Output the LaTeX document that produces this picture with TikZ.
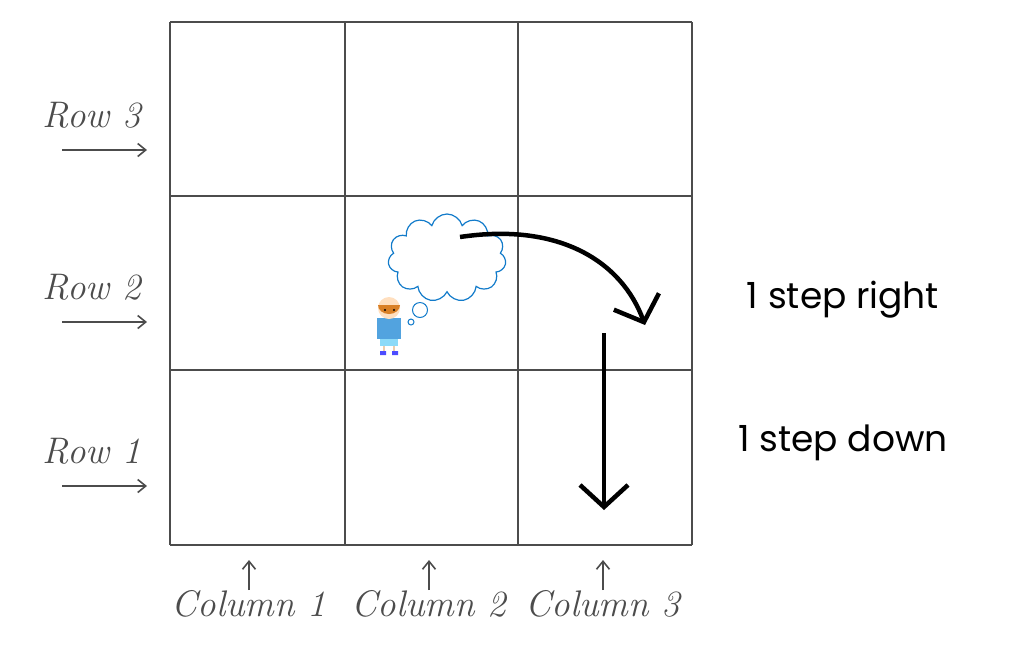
\documentclass[tikz,border=0pt]{standalone}
\usepackage{fontspec}
\setsansfont{Poppins}
\usetikzlibrary{shapes.symbols,arrows.meta}
\begin{document}
\begin{tikzpicture}[x=1pt,y=-1pt,
  gridline/.style={draw=black!70,line width=2.6pt},
  lbl/.style={font=\itshape\fontsize{37}{40}\selectfont,text=black!70},
  thin arrow/.style={draw=black!70,line width=1.6pt,-{Straight Barb[length=8pt,width=13pt]}},
  big arrow/.style={draw=black,line width=4.5pt,-{Straight Barb[length=22pt,width=48pt,line width=4.5pt]}},
  steptext/.style={font=\sffamily\fontsize{36}{40}\selectfont}]
\useasboundingbox (0,0) rectangle (1024,649);
\foreach \x in {170,345,518,692} \draw[gridline] (\x,22) -- (\x,545);
\foreach \y in {22,196,370,545} \draw[gridline] (170,\y) -- (692,\y);
\foreach \n/\y in {3/115,2/287,1/451}{
  \node[lbl] (r\n) at (92,\y) {Row \n};
  \coordinate (ra\n) at (62,\y+35);
  \coordinate (rb\n) at (147,\y+35);
  \draw[thin arrow] (ra\n) -- (rb\n);
}
\foreach \n/\x in {1/249,2/429,3/603}{
  \coordinate (ca\n) at (\x,590);
  \coordinate (cb\n) at (\x,560);
  \draw[thin arrow] (ca\n) -- (cb\n);
  \node[lbl] (c\n) at (\x,604) {Column \n};
}
\node[cloud,cloud puffs=11,aspect=1.4,draw=cyan!60!blue,line width=1.2pt,minimum width=118pt,minimum height=88pt,inner sep=0pt] (cl) at (447,258) {};
\node[circle,draw=cyan!60!blue,line width=1pt,minimum size=15pt,inner sep=0pt] (b1) at (420,310) {};
\node[circle,draw=cyan!60!blue,line width=1pt,minimum size=6pt,inner sep=0pt] (b2) at (411,322) {};
% boy
\fill[cyan!45] (380,337) rectangle (398,346);
\fill[cyan!70!blue!70] (377,318) rectangle (401,339);
\draw[orange!30!brown!40,line width=2pt] (384,346)--(384,352) (394,346)--(394,352);
\fill[blue!70] (380,351) rectangle (386,355) (392,351) rectangle (398,355);
\fill[orange!25] (389,308) circle (11pt);
\fill[brown!60!orange] (378,305) arc (180:0:11 and 9) -- cycle;
\fill (385,310) circle (1.2pt) (394,310) circle (1.2pt);
\coordinate (ca) at (460,237);
\coordinate (cb) at (645,325);
\draw[big arrow] (ca) .. controls (560,222) and (622,262) .. (cb);
\coordinate (da) at (604,333);
\coordinate (db) at (604,510);
\draw[big arrow] (da) -- (db);
\node[steptext] (t1) at (843,300) {1 step right};
\node[steptext] (t2) at (843,443) {1 step down};
\end{tikzpicture}
\end{document}
